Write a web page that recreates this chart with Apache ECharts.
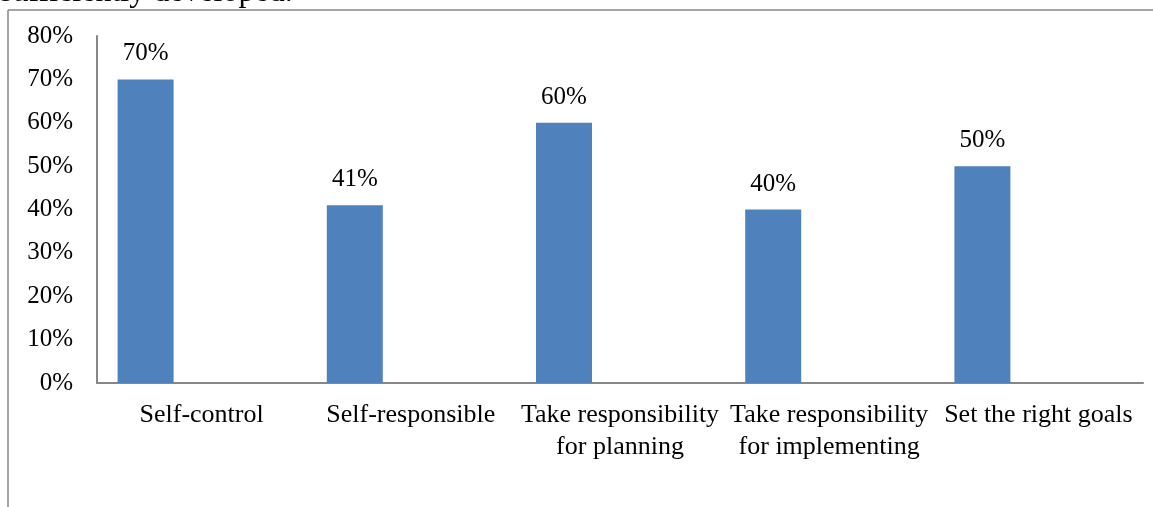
<!DOCTYPE html>
<html>
<head>
<meta charset="utf-8">
<title>Skills chart</title>
<script src="https://cdn.jsdelivr.net/npm/echarts@6/dist/echarts.min.js"></script>
<style>
  html, body { margin: 0; padding: 0; background: #fff; }
  #chart { width: 1153px; height: 507px; }
</style>
</head>
<body>
<div id="chart"></div>
<script>
// Category names (line breaks as shown under the axis)
const categories = [
  'Self-control',
  'Self-responsible',
  'Take responsibility\nfor planning',
  'Take responsibility\nfor implementing',
  'Set the right goals'
];

// Share of respondents, in percent
const shareValues = [70, 41, 60, 40, 50];

// Two unused series slots that keep the column cluster layout
const emptySlotA = [null, null, null, null, null];
const emptySlotB = [null, null, null, null, null];

// Value axis ticks
const yMin = 0;
const yMax = 80;
const yStep = 10;

const serif = '"Liberation Serif", "Times New Roman", serif';
const axisGray = '#878787';

const chart = echarts.init(document.getElementById('chart'), null, { renderer: 'canvas' });

chart.setOption({
  animation: false,
  backgroundColor: '#ffffff',
  graphic: [
    {
      type: 'text',
      left: 0,
      top: -23,
      style: {
        text: 'sufficiently developed.',
        font: '32px ' + serif,
        fill: '#000'
      }
    },
    {
      type: 'line',
      shape: { x1: 8, y1: 10, x2: 1153, y2: 10 },
      style: { stroke: axisGray, lineWidth: 1.5 }
    },
    {
      type: 'line',
      shape: { x1: 8, y1: 10, x2: 8, y2: 507 },
      style: { stroke: axisGray, lineWidth: 1.5 }
    }
  ],
  grid: { left: 97, right: 10, top: 36, bottom: 124, containLabel: false },
  xAxis: {
    type: 'category',
    data: categories,
    axisLine: { show: true, lineStyle: { color: axisGray, width: 2 } },
    axisTick: { show: false },
    splitLine: { show: false },
    axisLabel: {
      interval: 0,
      margin: 16,
      color: '#000',
      fontFamily: serif,
      fontSize: 26,
      lineHeight: 32,
      align: 'center'
    }
  },
  yAxis: {
    type: 'value',
    min: yMin,
    max: yMax,
    interval: yStep,
    axisLine: { show: true, lineStyle: { color: axisGray, width: 2 } },
    axisTick: { show: false },
    splitLine: { show: false },
    axisLabel: {
      margin: 24,
      color: '#000',
      fontFamily: serif,
      fontSize: 25,
      formatter: '{value}%'
    }
  },
  series: [
    {
      name: 'Share',
      type: 'bar',
      data: shareValues,
      barGap: '0%',
      barCategoryGap: '19.7%',
      itemStyle: { color: '#4F81BD' },
      label: {
        show: true,
        position: 'top',
        distance: 13,
        color: '#000',
        fontFamily: serif,
        fontSize: 25,
        formatter: '{c}%'
      }
    },
    {
      name: 'Slot A',
      type: 'bar',
      data: emptySlotA,
      barGap: '0%',
      barCategoryGap: '19.7%',
      itemStyle: { color: '#C0504D' }
    },
    {
      name: 'Slot B',
      type: 'bar',
      data: emptySlotB,
      barGap: '0%',
      barCategoryGap: '19.7%',
      itemStyle: { color: '#9BBB59' }
    }
  ]
});
</script>
</body>
</html>
